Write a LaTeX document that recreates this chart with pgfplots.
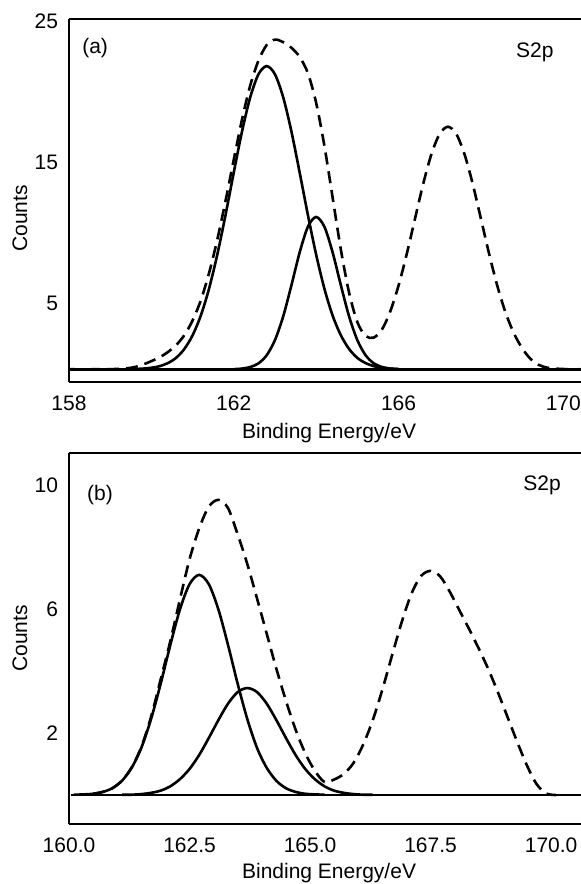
\documentclass[border=0pt]{standalone}
\usepackage{fontspec}
\setmainfont{Liberation Sans}
\usepackage{pgfplots}
\pgfplotsset{compat=1.18}

\pgfplotsset{
  xps/.style={
    scale only axis,
    width=256pt,
    axis x line*=box, axis y line*=left,
    axis line style={line width=0.9pt},
    tick style={draw=none}, major tick length=0pt,
    /pgf/number format/assume math mode=true,
    xticklabel style={yshift=-3.4pt},
    yticklabel style={xshift=-2pt},
    ylabel={Counts},
    xlabel={Binding Energy/eV},
  },
  comp/.style={black, line width=1.3pt, smooth},
  env/.style={black, line width=1.3pt, smooth, dash pattern=on 6pt off 3.5pt},
}

\begin{document}
\begin{tikzpicture}[font=\fontsize{10.5}{12.6}\selectfont]
\useasboundingbox (0,0) rectangle (290.5pt,-442pt);

% ---- (a) ----
\begin{axis}[xps,
  at={(34.5pt,-9.5pt)}, anchor=north west,
  height=181.35pt,
  xmin=158, xmax=170.43, ymin=-0.58, ymax=25.14,
  xtick={158,162,166,170}, ytick={5,15,25},
  every axis x label/.style={at={(axis description cs:0.508,-0.1414)}, anchor=center},
  every axis y label/.style={at={(axis description cs:-0.0957,0.45)}, rotate=90, anchor=center},
]
% baseline
\addplot[comp] coordinates {(158,0.3) (170.43,0.3)};
% component 1
\addplot[comp] coordinates {
(159.6,0.32) (159.8,0.35) (160.0,0.41) (160.2,0.52) (160.4,0.74) (160.6,1.11)
(160.8,1.74) (161.0,2.71) (161.2,4.11) (161.4,6.02) (161.6,8.43) (161.8,11.24)
(162.0,14.25) (162.2,17.16) (162.4,19.59) (162.6,21.22) (162.8,21.80) (163.0,21.22)
(163.2,19.59) (163.4,17.16) (163.6,14.25) (163.8,11.24) (164.0,8.43) (164.2,6.02)
(164.4,4.11) (164.6,2.71) (164.8,1.74) (165.0,1.11) (165.2,0.74) (165.4,0.52)
(165.6,0.41) (165.8,0.35) (166.0,0.32)};
% component 2
\addplot[comp] coordinates {
(162.0,0.31) (162.2,0.35) (162.4,0.46) (162.6,0.72) (162.8,1.30) (163.0,2.37)
(163.2,4.05) (163.4,6.26) (163.6,8.59) (163.8,10.41) (164.0,11.10) (164.2,10.41)
(164.4,8.59) (164.6,6.26) (164.8,4.05) (165.0,2.37) (165.2,1.30) (165.4,0.72)
(165.6,0.46) (165.8,0.35) (166.0,0.31)};
% envelope
\addplot[env] coordinates {
(158.0,0.30) (158.6,0.30) (159.0,0.31) (159.2,0.33) (159.4,0.37)
(159.6,0.46) (159.8,0.64) (160.0,0.88) (160.2,1.15) (160.4,1.52) (160.6,2.01)
(160.8,2.72) (161.0,3.76) (161.2,5.19) (161.4,7.12) (161.6,9.49) (161.8,12.24)
(162.0,15.16) (162.2,18.01) (162.4,20.43) (162.6,22.19) (162.8,23.30) (163.0,23.68)
(163.2,23.50) (163.4,23.10) (163.6,22.45) (163.8,21.30) (164.0,19.20) (164.2,16.15)
(164.4,12.48) (164.6,8.79) (164.8,5.73) (165.0,3.65) (165.2,2.66) (165.4,2.55)
(165.6,3.13) (165.8,4.41) (166.0,6.23) (166.2,8.48) (166.4,10.98) (166.6,13.46)
(166.8,15.57) (167.0,17.00) (167.2,17.50) (167.4,17.00) (167.6,15.57) (167.8,13.46)
(168.0,10.98) (168.2,8.48) (168.4,6.20) (168.6,4.31) (168.8,2.86) (169.0,1.80)
(169.2,1.05) (169.4,0.62) (169.6,0.42) (169.8,0.35) (170.0,0.32) (170.2,0.30)
(170.4,0.30)};
\node at (rel axis cs:0.051,0.92) {(a)};
\node at (rel axis cs:0.91,0.909) {S2p};
\end{axis}

% ---- (b) ----
\begin{axis}[xps,
  at={(34.5pt,-226.35pt)}, anchor=north west,
  height=185.65pt,
  xmin=160, xmax=170.62, ymin=-0.935, ymax=11.04,
  xtick={160,162.5,165,167.5,170}, ytick={2,6,10},
  xticklabel style={/pgf/number format/.cd, fixed, fixed zerofill, precision=1},
  every axis x label/.style={at={(axis description cs:0.508,-0.132)}, anchor=center},
  every axis y label/.style={at={(axis description cs:-0.0957,0.5)}, rotate=90, anchor=center},
]
\addplot[comp] coordinates {(160.05,0) (170.62,0)};
\addplot[comp] coordinates {
(160.1,0.01) (160.3,0.02) (160.5,0.04) (160.7,0.10) (160.9,0.22) (161.1,0.46)
(161.3,0.88) (161.5,1.52) (161.7,2.44) (161.9,3.58) (162.1,4.83) (162.3,5.98)
(162.5,6.80) (162.7,7.10) (162.9,6.80) (163.1,5.98) (163.3,4.83) (163.5,3.58)
(163.7,2.44) (163.9,1.52) (164.1,0.88) (164.3,0.46) (164.5,0.22) (164.7,0.10)
(164.9,0.04) (165.1,0.02) (165.3,0.01)};
\addplot[comp] coordinates {
(161.1,0.01) (161.3,0.01) (161.5,0.03) (161.7,0.07) (161.9,0.14) (162.1,0.28)
(162.3,0.51) (162.5,0.84) (162.7,1.29) (162.9,1.84) (163.1,2.42) (163.3,2.95)
(163.5,3.32) (163.7,3.45) (163.9,3.32) (164.1,2.95) (164.3,2.42) (164.5,1.84)
(164.7,1.29) (164.9,0.84) (165.1,0.51) (165.3,0.28) (165.5,0.14) (165.7,0.07)
(165.9,0.03) (166.1,0.01) (166.3,0.01)};
\addplot[env] coordinates {
(160.5,0.04) (160.7,0.10) (160.9,0.22) (161.1,0.47) (161.3,0.89) (161.5,1.55)
(161.7,2.51) (161.9,3.72) (162.1,4.95) (162.3,6.30) (162.5,7.60) (162.7,8.60)
(162.9,9.30) (163.1,9.52) (163.3,9.25) (163.5,8.40) (163.7,7.44) (163.9,6.34)
(164.1,5.21) (164.3,4.08) (164.5,3.04) (164.7,2.11) (164.9,1.35) (165.1,0.78)
(165.3,0.42) (165.5,0.50) (165.7,0.68) (165.9,1.03) (166.1,1.62) (166.3,2.41)
(166.5,3.40) (166.7,4.50) (166.9,5.57) (167.1,6.48) (167.3,7.06) (167.5,7.23)
(167.7,7.05) (167.9,6.55) (168.1,5.95) (168.3,5.35) (168.5,4.72) (168.7,4.05)
(168.9,3.30) (169.1,2.50) (169.3,1.70) (169.5,0.95) (169.7,0.35) (169.9,0.05)
(170.1,0.00)};
\node at (rel axis cs:0.0605,0.886) {(b)};
\node at (rel axis cs:0.924,0.913) {S2p};
\end{axis}
\end{tikzpicture}
\end{document}
